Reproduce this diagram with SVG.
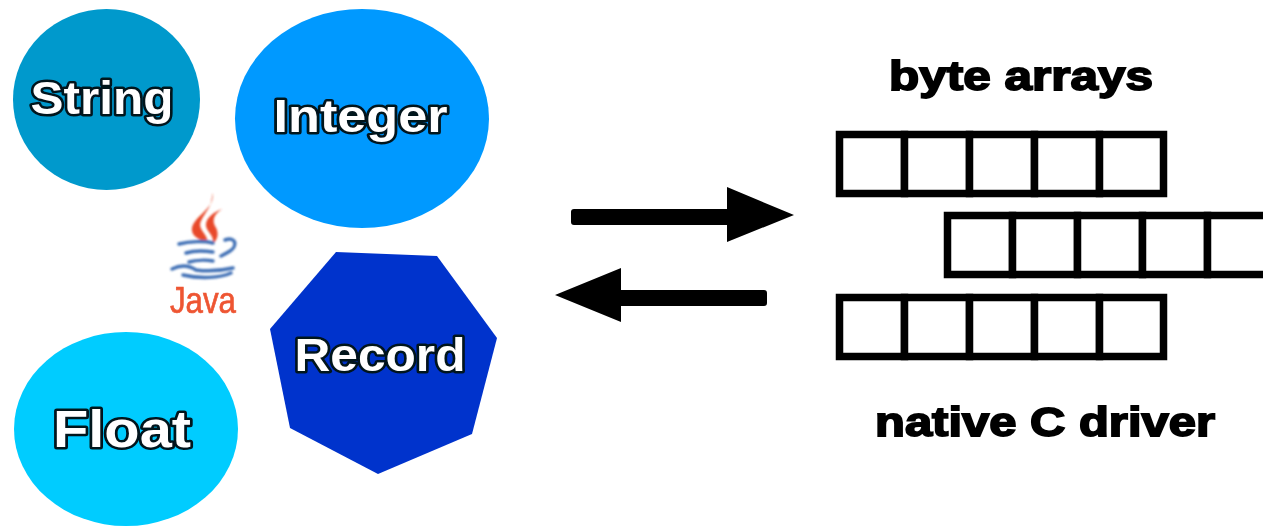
<svg xmlns="http://www.w3.org/2000/svg" width="1263" height="526" viewBox="0 0 1263 526">
<defs>
<filter id="b" x="-10%" y="-10%" width="120%" height="120%"><feGaussianBlur stdDeviation="1"/></filter>
<filter id="s" x="-5%" y="-10%" width="110%" height="120%"><feGaussianBlur stdDeviation="0.7"/></filter>
</defs>
<style>
.lbl{font-family:"Liberation Sans",Arial,sans-serif;font-weight:700;fill:#fff;stroke:#04121c;stroke-width:5;paint-order:stroke;stroke-linejoin:round}
.cap{font-family:"Liberation Sans",Arial,sans-serif;font-weight:700;font-size:41px;fill:#000;stroke:#000;stroke-width:1.800}
.cell{fill:#fff;stroke:#000;stroke-width:7.500}
.arrow{fill:#000}
.fl{fill:#e8492a}
.cup{fill:none;stroke:#3f6fb5;stroke-width:3.500;stroke-linecap:round}
</style>
<rect width="1263" height="526" fill="#fff"/>
<g id="string"><ellipse cx="106.500" cy="99.500" rx="93.500" ry="90.500" fill="#0099cc"/><text class="lbl" x="102" y="114" font-size="47" text-anchor="middle" textLength="143" lengthAdjust="spacingAndGlyphs" filter="url(#s)">String</text></g>
<g id="integer"><ellipse cx="362" cy="118.500" rx="127" ry="109.500" fill="#0099ff"/><text class="lbl" x="360.500" y="132" font-size="46" text-anchor="middle" textLength="174" lengthAdjust="spacingAndGlyphs" filter="url(#s)">Integer</text></g>
<g id="float"><ellipse cx="126" cy="429" rx="112" ry="97" fill="#00ccff"/><text class="lbl" x="122" y="447" font-size="52" text-anchor="middle" textLength="138" lengthAdjust="spacingAndGlyphs" filter="url(#s)">Float</text></g>
<g id="record"><polygon points="336,252 437,256 497,338 472,434 378,474 290,428 270,329" fill="#0033cc"/><text class="lbl" x="380" y="371" font-size="46" text-anchor="middle" textLength="171" lengthAdjust="spacingAndGlyphs" filter="url(#s)">Record</text></g>
<g id="java">
<g filter="url(#b)">
<path class="fl" d="M212,193C217,209 190,217 192,231C193,238 203,240 208,244C208,233 197,230 201,221C205,212 213,206 212,193Z"/>
<path class="fl" d="M222,209C212,213 203,220 207,229C210,235 216,238 211,245C219,240 219,232 215,226C212,220 214,214 222,209Z"/>
<path class="cup" d="M179,244C190,241 205,241 213,243"/>
<path class="cup" d="M186,253C195,250 207,251 213,252"/>
<path class="cup" d="M189,262C196,260 207,260 213,261"/>
<path class="cup" d="M172,269C182,264 190,266 196,270C210,272 224,270 233,268"/>
<path class="cup" d="M183,275C200,279 220,278 231,273"/>
<path class="cup" d="M225,240C236,236 238,246 230,251C227,253 225,254 221,256"/>
</g>
<text x="203" y="313" font-family="'Liberation Sans',Arial,sans-serif" font-size="37" fill="#ee5533" stroke="#ee5533" stroke-width="0.700" text-anchor="middle" textLength="66" lengthAdjust="spacingAndGlyphs" filter="url(#s)">Java</text>
</g>
<g id="connectors">
<path class="arrow" d="M574,209H727V187L794,215L727,242V225H574Q571,225 571,222V212Q571,209 574,209Z"/>
<path class="arrow" d="M764,290H621V268L555,295L621,322V306H764Q767,306 767,303V293Q767,290 764,290Z"/>
</g>
<g id="array1" transform="translate(839.500,134.500)"><rect class="cell" width="65" height="59"/><rect class="cell" x="65" width="65" height="59"/><rect class="cell" x="130" width="65" height="59"/><rect class="cell" x="195" width="65" height="59"/><rect class="cell" x="260" width="64" height="59"/></g>
<g id="array2" transform="translate(947.500,215.500)"><rect class="cell" width="65" height="59"/><rect class="cell" x="65" width="65" height="59"/><rect class="cell" x="130" width="65" height="59"/><rect class="cell" x="195" width="65" height="59"/><rect class="cell" x="260" width="65" height="59"/></g>
<g id="array3" transform="translate(839.500,297.500)"><rect class="cell" width="65" height="59"/><rect class="cell" x="65" width="65" height="59"/><rect class="cell" x="130" width="65" height="59"/><rect class="cell" x="195" width="65" height="59"/><rect class="cell" x="260" width="64" height="59"/></g>
<text class="cap" x="1021" y="90" text-anchor="middle" textLength="264" lengthAdjust="spacingAndGlyphs" filter="url(#s)">byte arrays</text>
<text class="cap" x="1045" y="436" text-anchor="middle" textLength="340" lengthAdjust="spacingAndGlyphs" filter="url(#s)">native C driver</text>
</svg>
